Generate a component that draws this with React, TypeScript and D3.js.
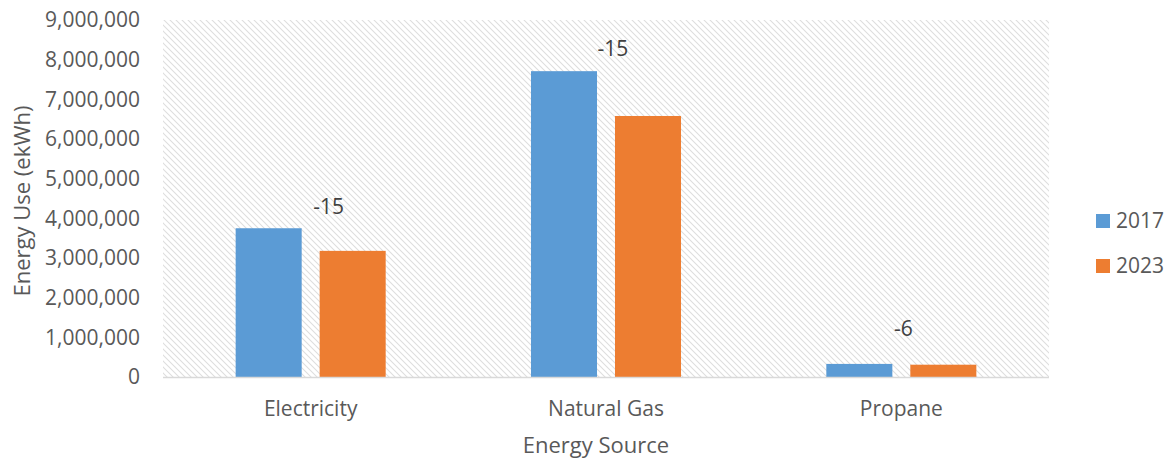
import { useEffect, useRef } from 'react'
import * as d3 from 'd3'

const categories = ['Electricity', 'Natural Gas', 'Propane']
const years = ['2017', '2023']
const values2017 = [3750000, 7710000, 330000]
const values2023 = [3180000, 6580000, 310000]
const changeLabels = ['-15', '-15', '-6']
const yTicks = [0, 1000000, 2000000, 3000000, 4000000, 5000000, 6000000, 7000000, 8000000, 9000000]

const colors = ['#5B9BD5', '#ED7D31']
const textColor = '#595959'
const font = '"Open Sans", sans-serif'

export default function App() {
  const svgRef = useRef<SVGSVGElement>(null)

  useEffect(() => {
    if (!svgRef.current) return
    const svg = d3.select(svgRef.current)
    svg.selectAll('*').remove()

    const width = 1176
    const height = 463
    const plot = { left: 163, right: 1049, top: 20, bottom: 377 }

    svg.attr('width', width).attr('height', height)

    // light downward-diagonal hatch for the plot area
    const defs = svg.append('defs')
    const pat = defs.append('pattern')
      .attr('id', 'hatch')
      .attr('patternUnits', 'userSpaceOnUse')
      .attr('width', 6)
      .attr('height', 6)
    pat.append('path')
      .attr('d', 'M-1,-1 L7,7 M-1,5 L1,7 M5,-1 L7,1')
      .attr('stroke', '#DEDEDE')
      .attr('stroke-width', 1.1)

    svg.append('rect')
      .attr('x', plot.left)
      .attr('y', plot.top)
      .attr('width', plot.right - plot.left)
      .attr('height', plot.bottom - plot.top)
      .attr('fill', 'url(#hatch)')

    const x0 = d3.scaleBand().domain(categories).range([plot.left, plot.right]).padding(0)
    const x1 = d3.scaleBand().domain(years).range([0, x0.bandwidth()])
      .paddingInner(0.214).paddingOuter(0.865)
    const y = d3.scaleLinear().domain([0, 9000000]).range([plot.bottom, plot.top])

    // y tick labels
    const fmt = d3.format(',')
    svg.append('g').selectAll('text')
      .data(yTicks)
      .enter().append('text')
      .attr('x', 140)
      .attr('y', d => y(d))
      .attr('dy', '0.35em')
      .attr('text-anchor', 'end')
      .style('font-family', font)
      .style('font-size', '21px')
      .style('fill', textColor)
      .text(d => fmt(d))

    // bars
    const series = [values2017, values2023]
    const g = svg.append('g')
    series.forEach((vals, si) => {
      g.selectAll(`.bar${si}`)
        .data(categories)
        .enter().append('rect')
        .attr('x', c => (x0(c) as number) + (x1(years[si]) as number))
        .attr('y', (c, i) => y(vals[i]))
        .attr('width', x1.bandwidth())
        .attr('height', (c, i) => y(0) - y(vals[i]))
        .attr('fill', colors[si])
    })

    // x axis line
    svg.append('line')
      .attr('x1', plot.left).attr('x2', plot.right)
      .attr('y1', plot.bottom + 0.5).attr('y2', plot.bottom + 0.5)
      .attr('stroke', '#D9D9D9')
      .attr('stroke-width', 1.5)

    // category labels
    svg.append('g').selectAll('text')
      .data(categories)
      .enter().append('text')
      .attr('x', c => (x0(c) as number) + x0.bandwidth() / 2)
      .attr('y', 416)
      .attr('text-anchor', 'middle')
      .style('font-family', font)
      .style('font-size', '21px')
      .style('fill', textColor)
      .text(c => c)

    // change annotations above each group
    const nudgeX = [18, 7, 2]
    const liftY = [14, 15, 28]
    svg.append('g').selectAll('text')
      .data(categories)
      .enter().append('text')
      .attr('x', (c, i) => (x0(c) as number) + x0.bandwidth() / 2 + nudgeX[i])
      .attr('y', (c, i) => y(Math.max(values2017[i], values2023[i])) - liftY[i])
      .attr('text-anchor', 'middle')
      .style('font-family', font)
      .style('font-size', '21px')
      .style('fill', '#404040')
      .text((c, i) => changeLabels[i])

    // axis titles
    svg.append('text')
      .attr('x', 596)
      .attr('y', 453)
      .attr('text-anchor', 'middle')
      .style('font-family', font)
      .style('font-size', '22px')
      .style('fill', textColor)
      .text('Energy Source')

    svg.append('text')
      .attr('transform', `translate(30,201) rotate(-90)`)
      .attr('text-anchor', 'middle')
      .style('font-family', font)
      .style('font-size', '22px')
      .style('fill', textColor)
      .text('Energy Use (ekWh)')

    // legend
    const legend = svg.append('g')
    years.forEach((yr, i) => {
      legend.append('rect')
        .attr('x', 1096)
        .attr('y', 214 + i * 45)
        .attr('width', 14)
        .attr('height', 14)
        .attr('fill', colors[i])
      legend.append('text')
        .attr('x', 1116)
        .attr('y', 228 + i * 45)
        .style('font-family', font)
        .style('font-size', '21px')
        .style('fill', textColor)
        .text(yr)
    })
  }, [])

  return <svg ref={svgRef} style={{ display: 'block', position: 'absolute', left: 0, top: 0 }}></svg>
}
